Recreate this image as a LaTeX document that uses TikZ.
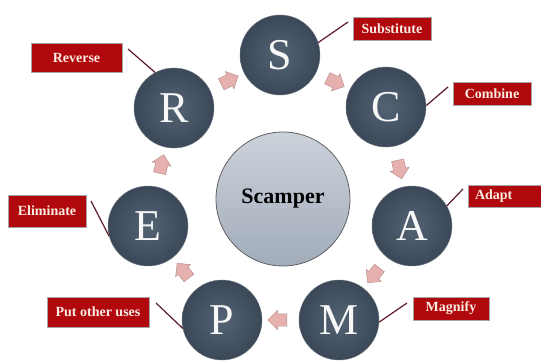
\documentclass[tikz,border=0pt]{standalone}
\usepackage{fontspec}
\setmainfont{Liberation Serif}
\usetikzlibrary{shapes.arrows}

\definecolor{ardoise}{RGB}{58,72,88}
\definecolor{ardoiseclair}{RGB}{84,99,116}
\definecolor{gristour}{RGB}{110,118,128}
\definecolor{centreclair}{RGB}{204,210,218}
\definecolor{centrefonce}{RGB}{162,172,186}
\definecolor{rouge}{RGB}{176,8,12}
\definecolor{rose}{RGB}{230,176,174}
\definecolor{rosefonce}{RGB}{176,140,140}
\definecolor{bordeaux}{RGB}{92,26,42}
\definecolor{creme}{RGB}{250,236,226}

\tikzset{
  lettre/.style={circle, minimum size=80pt, inner sep=0pt,
    inner color=ardoiseclair, outer color=ardoise, draw=gristour,
    line width=0.4pt, text=white!94!gray, font=\fontsize{44}{44}\selectfont},
  centre/.style={circle, minimum size=134pt, inner sep=0pt,
    top color=centreclair, bottom color=centrefonce, draw=gray!75!black,
    line width=0.8pt, font=\bfseries\fontsize{22}{22}\selectfont},
  etiquette/.style={rectangle, fill=rouge, draw=gray!70, line width=0.5pt,
    text=creme, inner sep=0pt, font=\bfseries\fontsize{14}{14}\selectfont},
  fleche/.style={single arrow, fill=rose, draw=rosefonce, line width=0.4pt,
    inner sep=6pt, minimum height=19pt, single arrow head extend=3.5pt,
    sloped, allow upside down},
  lien/.style={draw=bordeaux, line width=1.2pt}
}

\begin{document}
\begin{tikzpicture}[x=1pt,y=-1pt]
    % Cadre de l'image
    \useasboundingbox (0,0) rectangle (541,362);

    % Cercle central
    \node[centre] (scamper) at (283,199) {Scamper};

    % Cercles des lettres
    \node[lettre] (S) at (280,55) {S};
    \node[lettre] (C) at (386,107) {C};
    \node[lettre] (A) at (412,226) {A};
    \node[lettre] (M) at (339,320) {M};
    \node[lettre] (P) at (222,320) {P};
    \node[lettre] (E) at (148,226) {E};
    \node[lettre] (R) at (174,108) {R};

    % Flèches entre les lettres
    \foreach \a/\b in {R/S, S/C, C/A, A/M, M/P, P/E, E/R}
        \path (\a) -- (\b) node[fleche, midway] {};

    % Étiquettes
    \node[etiquette, minimum width=91pt, minimum height=29pt] (reverse) at (76.5,57.5) {Reverse};
    \node[etiquette, minimum width=78pt, minimum height=23pt] (substitute) at (392,28.5) {Substitute};
    \node[etiquette, minimum width=78pt, minimum height=23pt] (combine) at (492,93.5) {Combine};
    \node[etiquette, minimum height=22pt, inner xsep=7pt, text width=60pt, align=left] (adapt) at (505,196) {Adapt};
    \node[etiquette, minimum width=76pt, minimum height=23pt] (magnify) at (451,308.5) {Magnify};
    \node[etiquette, minimum width=78pt, minimum height=32pt] (eliminate) at (47,211) {Eliminate};
    \node[etiquette, minimum width=102pt, minimum height=30pt] (autres) at (98,312) {Put other uses};

    % Traits de rappel
    \coordinate (reversepied) at (128,49);
    \coordinate (substitutepied) at (348,22);
    \coordinate (combinepied) at (448,87);
    \coordinate (adaptpied) at (463,189);
    \coordinate (magnifypied) at (407,303);
    \coordinate (eliminatepied) at (91,201);
    \coordinate (autrespied) at (156,303);
    \draw[lien] (reversepied) -- (R.118);
    \draw[lien] (substitutepied) -- (S.18);
    \draw[lien] (combinepied) -- (C.2);
    \draw[lien] (adaptpied) -- (A.30);
    \draw[lien] (magnifypied) -- (M.-3);
    \draw[lien] (eliminatepied) -- (E.195);
    \draw[lien] (autrespied) -- (P.192);
\end{tikzpicture}
\end{document}
